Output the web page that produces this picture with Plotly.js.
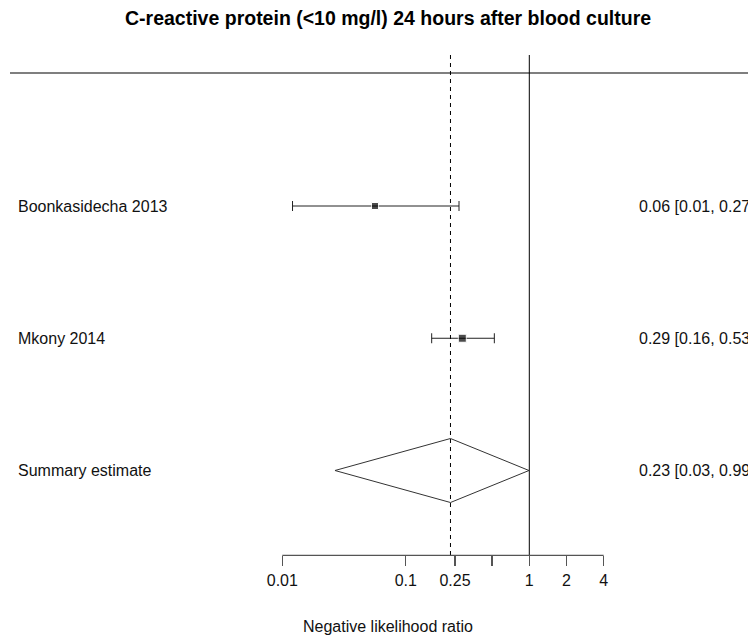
<!DOCTYPE html>
<html>
<head>
<meta charset="utf-8">
<script src="https://cdn.plot.ly/plotly-3.0.1.min.js"></script>
<style>html,body{margin:0;padding:0;background:#fff;}#plot{width:748px;height:638px;}</style>
</head>
<body>
<div id="plot"></div>
<script>
// ---- data ----
const studies = ["Boonkasidecha 2013", "Mkony 2014"];
const estimates = [0.0563, 0.2868];
const lowerCI = [0.0121, 0.162];
const upperCI = [0.2697, 0.521];
const studyLabels = ["0.06 [0.01, 0.27]", "0.29 [0.16, 0.53]"];
const markerSizes = [7, 8];
const summaryName = "Summary estimate";
const summaryEst = 0.23;
const summaryLower = 0.0267;
const summaryUpper = 0.994;
const summaryLabel = "0.23 [0.03, 0.99]";
const tickVals = [0.01, 0.1, 0.25, 0.5, 1, 2, 4];
const tickText = ["0.01", "0.1", "0.25", "", "1", "2", "4"];
const titleText = "C-reactive protein (<10 mg/l) 24 hours after blood culture";
const xTitle = "Negative likelihood ratio";

// ---- layout geometry ----
const W = 748, H = 638;
const pxPerDec = 123.5, x001 = 282.3;
const xlogAt = p => -2 + (p - x001) / pxPerDec;
const rowPx = 132.25, summaryPx = 470.5;
const yAt = p => 1 + (summaryPx - p) / rowPx;
const studyY = studies.map((_, i) => studies.length + 1 - i);  // 3, 2
const summaryY = 1;
const topY = yAt(73), lineTop = yAt(55), axisY = yAt(555.3);
const diamondH = 32 / rowPx;
const font = "Liberation Sans, Arial, sans-serif";
const ink = "#000";

const traces = [
  {
    type: "scatter", mode: "markers",
    x: estimates, y: studyY,
    marker: {symbol: "square", size: markerSizes, color: ink},
    error_x: {
      type: "data", symmetric: false,
      array: upperCI.map((u, i) => u - estimates[i]),
      arrayminus: lowerCI.map((l, i) => estimates[i] - l),
      color: "#222", thickness: 1, width: 5
    },
    hoverinfo: "skip"
  },
  {
    type: "scatter", mode: "lines",
    x: [summaryLower, summaryEst, summaryUpper, summaryEst, summaryLower],
    y: [summaryY, summaryY + diamondH, summaryY, summaryY - diamondH, summaryY],
    fill: "toself", fillcolor: "rgba(255,255,255,1)",
    line: {color: "#333", width: 1},
    hoverinfo: "skip"
  }
];

const shapes = [
  {type: "line", xref: "paper", yref: "y", x0: 10 / W, x1: 1, y0: topY, y1: topY,
   line: {color: "#555", width: 1.3}},
  {type: "line", xref: "x", yref: "y", x0: 1, x1: 1, y0: lineTop, y1: axisY,
   line: {color: ink, width: 1}},
  {type: "line", xref: "x", yref: "y", x0: summaryEst, x1: summaryEst, y0: lineTop, y1: axisY,
   line: {color: ink, width: 1, dash: "4px,4px"}},
  {type: "line", xref: "x", yref: "y", x0: tickVals[0], x1: tickVals[tickVals.length - 1], y0: axisY, y1: axisY,
   line: {color: "#555", width: 1.3}}
];

const txtFont = {family: font, size: 16, color: "#111"};
const annotations = [];
studies.forEach((s, i) => {
  annotations.push({xref: "paper", yref: "y", x: 16 / W, y: studyY[i], text: s, showarrow: false,
    xanchor: "left", yanchor: "middle", font: txtFont});
  annotations.push({xref: "paper", yref: "y", x: 637 / W, y: studyY[i], text: studyLabels[i], showarrow: false,
    xanchor: "left", yanchor: "middle", font: txtFont});
});
annotations.push({xref: "paper", yref: "y", x: 16 / W, y: summaryY, text: summaryName, showarrow: false,
  xanchor: "left", yanchor: "middle", font: txtFont});
annotations.push({xref: "paper", yref: "y", x: 637 / W, y: summaryY, text: summaryLabel, showarrow: false,
  xanchor: "left", yanchor: "middle", font: txtFont});
annotations.push({xref: "paper", yref: "paper", x: 388 / W, y: 1 - 18 / H, text: "<b>" + titleText.replace(/</g, "&lt;") + "</b>",
  showarrow: false, xanchor: "center", yanchor: "middle", font: {family: font, size: 19.5, color: "#000"}});
annotations.push({xref: "paper", yref: "paper", x: 388 / W, y: 1 - 626 / H, text: xTitle,
  showarrow: false, xanchor: "center", yanchor: "middle", font: txtFont});

const layout = {
  width: W, height: H,
  margin: {l: 0, r: 0, t: 0, b: 0, pad: 0},
  paper_bgcolor: "#fff", plot_bgcolor: "#fff",
  showlegend: false,
  xaxis: {
    type: "log", range: [xlogAt(0), xlogAt(W)],
    anchor: "free", position: (H - 555.3) / H,
    showline: false, showgrid: false, zeroline: false,
    tickmode: "array", tickvals: tickVals, ticktext: tickText,
    ticks: "outside", ticklen: 10, tickwidth: 1.3, tickcolor: "#555",
    tickfont: txtFont,
    fixedrange: true
  },
  yaxis: {
    range: [yAt(H), yAt(0)],
    showline: false, showgrid: false, zeroline: false, showticklabels: false, ticks: "",
    fixedrange: true
  },
  shapes: shapes,
  annotations: annotations
};

Plotly.newPlot("plot", traces, layout, {displayModeBar: false, staticPlot: true});
</script>
</body>
</html>
